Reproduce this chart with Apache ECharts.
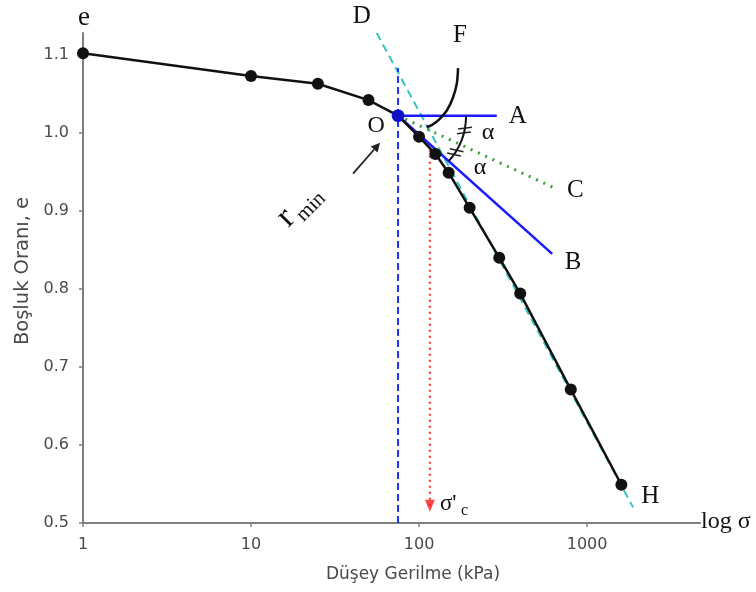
<!DOCTYPE html>
<html>
<head>
<meta charset="utf-8">
<script src="https://cdn.jsdelivr.net/npm/echarts@6/dist/echarts.min.js"></script>
<style>
  html, body { margin: 0; padding: 0; background: #ffffff; }
  #chart { width: 756px; height: 592px; }
</style>
</head>
<body>
<div id="chart"></div>
<script>
// Oedometer test: void ratio against vertical stress (log scale)
const stressKPa = [1, 10, 25, 50, 75, 100, 125, 150, 200, 300, 400, 800, 1600];
const voidRatio = [1.102, 1.073, 1.063, 1.042, 1.022, 0.995, 0.973, 0.949, 0.904, 0.840, 0.794, 0.671, 0.549];

const xTickValues = [1, 10, 100, 1000];
const yTickValues = [0.5, 0.6, 0.7, 0.8, 0.9, 1.0, 1.1];
const xRange = [1, 4700];
const yRange = [0.5, 1.128];

// Casagrande construction
const pointO = [75, 1.022];                       // point of minimum radius
const lineA = [[75, 1.022], [290, 1.022]];        // horizontal through O
const lineB = [[75, 1.022], [620, 0.845]];        // tangent at O
const lineC = [[75, 1.022], [630, 0.930]];        // bisector of angle AOB
const lineDH = [[56, 1.128], [1880, 0.520]];      // virgin compression line
const lineO = [[75, 0.5], [75, 1.083]];           // vertical through O
const sigmaC = [[116, 0.986], [116, 0.522]];      // preconsolidation stress
const curveF = [[170.7, 1.083], [167.7, 1.063], [159.1, 1.045], [146.6, 1.029],
                [131.5, 1.017], [119.0, 1.010], [111.0, 1.0075]];

const SERIF = '"Liberation Serif", "DejaVu Serif", serif';
const SANS = '"DejaVu Sans", sans-serif';
const AXIS_GREY = '#7f7f7f';
const TEXT_GREY = '#4a4a4a';

const chart = echarts.init(document.getElementById('chart'), null, { renderer: 'canvas' });

function plainLine(data, color, width, type, z) {
  return {
    type: 'line', data: data, symbol: 'none', silent: true, z: z,
    lineStyle: { color: color, width: width, type: type },
    animation: false
  };
}

const option = {
  backgroundColor: '#ffffff',
  animation: false,
  grid: { left: 83, right: 56, top: 33, bottom: 69, containLabel: false },
  xAxis: {
    type: 'log', logBase: 10, min: xRange[0], max: xRange[1],
    axisLine: { onZero: false, lineStyle: { color: AXIS_GREY, width: 2 } },
    axisTick: { show: true, length: 4, customValues: xTickValues, lineStyle: { color: AXIS_GREY, width: 1.5 } },
    minorTick: { show: false },
    splitLine: { show: false },
    axisLabel: {
      customValues: xTickValues, margin: 14, color: TEXT_GREY, fontSize: 16, fontFamily: SANS,
      formatter: v => String(Math.round(v))
    },
    name: 'Düşey Gerilme (kPa)', nameLocation: 'middle', nameGap: 43,
    nameTextStyle: { color: TEXT_GREY, fontSize: 17, fontFamily: SANS, padding: [0, 0, 0, 43] }
  },
  yAxis: {
    type: 'value', min: yRange[0], max: yRange[1],
    axisLine: { onZero: false, lineStyle: { color: AXIS_GREY, width: 2 } },
    axisTick: { show: true, length: 4, customValues: yTickValues, lineStyle: { color: AXIS_GREY, width: 1.5 } },
    splitLine: { show: false },
    axisLabel: {
      customValues: yTickValues, margin: 14, color: TEXT_GREY, fontSize: 16, fontFamily: SANS,
      formatter: v => v.toFixed(1)
    },
    name: 'Boşluk Oranı, e', nameLocation: 'middle', nameGap: 49, nameRotate: 90,
    nameTextStyle: { color: TEXT_GREY, fontSize: 19.5, fontFamily: SANS, padding: [0, 0, 0, 14] }
  },
  series: [
    plainLine(lineDH, '#35c4c0', 2, [8, 5], 2),
    plainLine(lineO, '#2233ee', 2, [7, 4], 3),
    plainLine(sigmaC, '#ff3b3b', 2.2, [2, 4], 3),
    {
      type: 'scatter', data: [sigmaC[1]], symbol: 'triangle', symbolRotate: 180,
      symbolSize: [10, 12], itemStyle: { color: '#ff1a1a' }, silent: true, z: 4
    },
    plainLine(lineC, '#3a9d3a', 3, [2, 6], 3),
    plainLine(lineA, '#1a1aff', 2.5, 'solid', 3),
    plainLine(lineB, '#1a1aff', 2.5, 'solid', 3),
    {
      type: 'line', data: stressKPa.map((s, i) => [s, voidRatio[i]]),
      symbol: 'circle', symbolSize: 12, showSymbol: true, silent: true, z: 5,
      lineStyle: { color: '#111111', width: 2.5 },
      itemStyle: { color: '#111111', borderWidth: 0 }
    },
    {
      type: 'scatter', data: [pointO], symbol: 'circle', symbolSize: 13,
      itemStyle: { color: '#1010f0' }, silent: true, z: 6
    },
    {
      type: 'line', data: curveF, smooth: 0.3, symbol: 'none', silent: true, z: 5,
      lineStyle: { color: '#111111', width: 2.5 }
    }
  ]
};

chart.setOption(option);

// Annotations placed relative to the construction points
const px = p => chart.convertToPixel({ gridIndex: 0 }, p);
const o = px(pointO);
const bEnd = px(lineB[1]);
const aEnd = px(lineA[1]);
const cEnd = px(lineC[1]);
const dStart = px(lineDH[0]);
const fTop = px(curveF[0]);
const hPt = px([stressKPa[stressKPa.length - 1], voidRatio[voidRatio.length - 1]]);
const arrowPt = px(sigmaC[1]);
const axisTop = px([xRange[0], yRange[1]]);
const axisEnd = px([xRange[1], yRange[0]]);

function letter(text, x, y, size, extra) {
  return {
    type: 'text', z: 20, silent: true,
    style: Object.assign({
      text: text, x: x, y: y, fill: '#111111', fontSize: size, fontFamily: SERIF,
      align: 'center', verticalAlign: 'middle'
    }, extra || {})
  };
}

const graphics = [];

// angle arc between OA and OB
const angB = Math.atan2(bEnd[1] - o[1], bEnd[0] - o[0]);
const R = 68;
graphics.push({
  type: 'arc', z: 15, silent: true,
  shape: { cx: o[0], cy: o[1], r: R, startAngle: 0, endAngle: angB, clockwise: true },
  style: { stroke: '#111111', lineWidth: 2, fill: null }
});
// equal-angle tick marks
[0.3, 0.78].forEach(f => {
  const t = angB * f;
  [-2.5, 2.5].forEach(off => {
    const tx = -Math.sin(t), ty = Math.cos(t);
    const cx = o[0] + R * Math.cos(t) + tx * off;
    const cy = o[1] + R * Math.sin(t) + ty * off;
    const dx = Math.cos(t - 0.35), dy = Math.sin(t - 0.35);
    graphics.push({
      type: 'line', z: 16, silent: true,
      shape: { x1: cx - dx * 7, y1: cy - dy * 7, x2: cx + dx * 7, y2: cy + dy * 7 },
      style: { stroke: '#222222', lineWidth: 1.5 }
    });
  });
});

graphics.push(letter('e', axisTop[0] + 1, axisTop[1] - 15, 27));
graphics.push(letter('log σ', axisEnd[0] + 1, axisEnd[1] - 1, 24, { align: 'left' }));
graphics.push(letter('D', dStart[0] - 15, dStart[1] - 17, 25));
graphics.push(letter('F', fTop[0] + 2, fTop[1] - 33, 25));
graphics.push(letter('A', aEnd[0] + 21, aEnd[1] + 1, 25));
graphics.push(letter('C', cEnd[0] + 22, cEnd[1] + 3, 25));
graphics.push(letter('B', bEnd[0] + 21, bEnd[1] + 9, 25));
graphics.push(letter('H', hPt[0] + 29, hPt[1] + 12, 25));
graphics.push(letter('O', o[0] - 22, o[1] + 10, 24));
graphics.push(letter('α', o[0] + 90, o[1] + 17, 24));
graphics.push(letter('α', o[0] + 82, o[1] + 52, 24));

// σ'c label beside the arrow
graphics.push(letter("σ'", arrowPt[0] + 10, arrowPt[1] - 2, 23, { align: 'left' }));
graphics.push(letter('c', arrowPt[0] + 31, arrowPt[1] + 5, 16, { align: 'left' }));

// r_min label with arrow pointing at O
graphics.push({
  type: 'group', x: o[0] - 112, y: o[1] + 102, rotation: Math.PI / 4, z: 20, silent: true,
  children: [
    { type: 'text', style: { text: 'r', x: 0, y: 0, fill: '#111111', fontSize: 34, fontFamily: SERIF, align: 'center', verticalAlign: 'middle' } },
    { type: 'text', style: { text: 'min', x: 9, y: 10, fill: '#111111', fontSize: 21, fontFamily: SERIF, align: 'left', verticalAlign: 'middle' } }
  ]
});
const a0 = [o[0] - 45, o[1] + 58];
const a1 = [o[0] - 18, o[1] + 27];
const ang = Math.atan2(a1[1] - a0[1], a1[0] - a0[0]);
const headLen = 9, headW = 4.5;
const base = [a1[0] - Math.cos(ang) * headLen, a1[1] - Math.sin(ang) * headLen];
graphics.push({
  type: 'line', z: 20, silent: true,
  shape: { x1: a0[0], y1: a0[1], x2: base[0], y2: base[1] },
  style: { stroke: '#222222', lineWidth: 1.8 }
});
graphics.push({
  type: 'polygon', z: 20, silent: true,
  shape: {
    points: [
      a1,
      [base[0] - Math.sin(ang) * headW, base[1] + Math.cos(ang) * headW],
      [base[0] + Math.sin(ang) * headW, base[1] - Math.cos(ang) * headW]
    ]
  },
  style: { fill: '#222222' }
});

chart.setOption({ graphic: graphics });
</script>
</body>
</html>
